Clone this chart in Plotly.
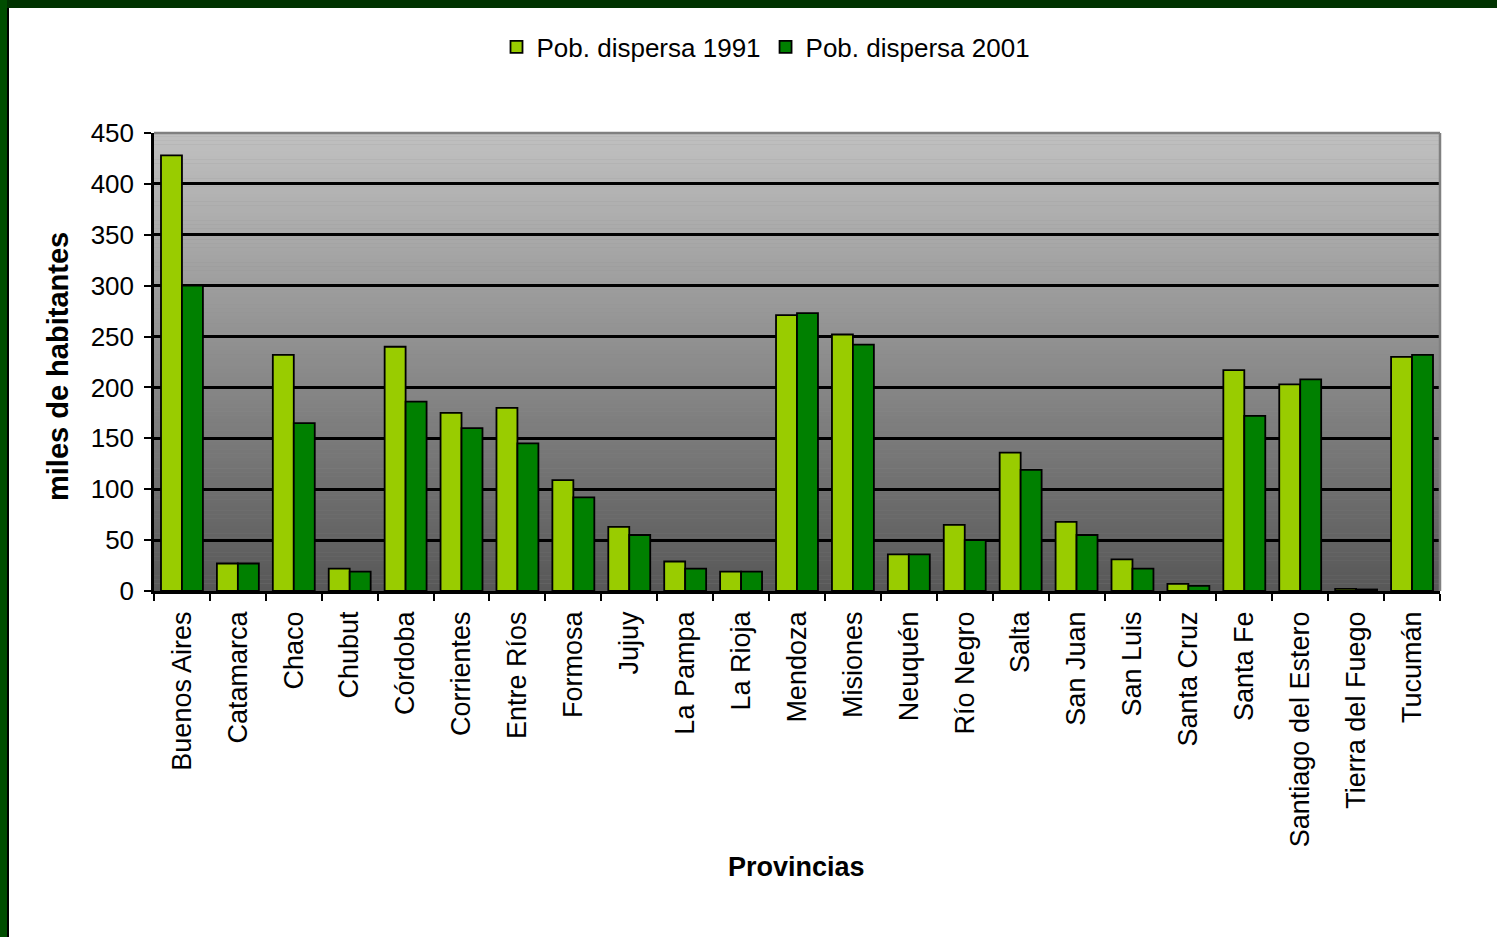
import plotly.graph_objects as go

provincias = ["Buenos Aires", "Catamarca", "Chaco", "Chubut", "Córdoba", "Corrientes",
              "Entre Ríos", "Formosa", "Jujuy", "La Pampa", "La Rioja", "Mendoza",
              "Misiones", "Neuquén", "Río Negro", "Salta", "San Juan", "San Luis",
              "Santa Cruz", "Santa Fe", "Santiago del Estero", "Tierra del Fuego", "Tucumán"]
pob_1991 = [428, 27, 232, 22, 240, 175, 180, 109, 63, 29, 19, 271,
            252, 36, 65, 136, 68, 31, 7, 217, 203, 2, 230]
pob_2001 = [300, 27, 165, 19, 186, 160, 145, 92, 55, 22, 19, 273,
            242, 36, 50, 119, 55, 22, 5, 172, 208, 1.5, 232]
y_ticks = [0, 50, 100, 150, 200, 250, 300, 350, 400, 450]

W, H = 1497, 937
L, R, T, B = 154, 1440, 133, 591
pw, ph = R - L, B - T

def px_x(p):
    return (p - L) / pw

def px_y(p):
    return (B - p) / ph

FONT = "Liberation Sans, Arial, sans-serif"

fig = go.Figure()
fig.add_trace(go.Bar(x=provincias, y=pob_1991, name="Pob. dispersa 1991",
                     marker=dict(color="#99CC00", line=dict(color="#000000", width=1.8))))
fig.add_trace(go.Bar(x=provincias, y=pob_2001, name="Pob. dispersa 2001",
                     marker=dict(color="#008000", line=dict(color="#000000", width=1.8))))

shapes = []
# gradient background
n = 120
c0, c1 = 0xC0, 0x58
for i in range(n):
    t = i / (n - 1)
    v = int(round(c0 + (c1 - c0) * t))
    col = f"rgb({v},{v},{v})"
    shapes.append(dict(type="rect", xref="paper", yref="paper", x0=0, x1=1,
                       y0=1 - (i + 1) / n, y1=1 - i / n + 0.0005,
                       fillcolor=col, line=dict(width=0), layer="below"))
# plot-area border top/right (gray)
shapes.append(dict(type="line", xref="paper", yref="paper", x0=0, x1=1, y0=1, y1=1,
                   line=dict(color="#808080", width=2.5), layer="above"))
shapes.append(dict(type="line", xref="paper", yref="paper", x0=1, x1=1, y0=0, y1=1,
                   line=dict(color="#808080", width=2.5), layer="above"))
# page frame: top and left dark green
shapes.append(dict(type="rect", xref="paper", yref="paper",
                   x0=px_x(-5), x1=px_x(W + 5), y0=px_y(8), y1=px_y(-5),
                   fillcolor="#003300", line=dict(width=0), layer="above"))
shapes.append(dict(type="rect", xref="paper", yref="paper",
                   x0=px_x(-5), x1=px_x(7), y0=px_y(H + 5), y1=px_y(-5),
                   fillcolor="#004D00", line=dict(width=0), layer="above"))
shapes.append(dict(type="rect", xref="paper", yref="paper",
                   x0=px_x(7), x1=px_x(9), y0=px_y(H + 5), y1=px_y(8),
                   fillcolor="#000000", line=dict(width=0), layer="above"))

fig.update_layout(
    width=W, height=H,
    margin=dict(l=L, r=W - R, t=T, b=H - B, autoexpand=False),
    paper_bgcolor="white", plot_bgcolor="#8c8c8c",
    font=dict(family=FONT, size=26, color="#000000"),
    barmode="group", bargap=0.25, bargroupgap=0,
    showlegend=True,
    legend=dict(orientation="h", x=px_x(766), xanchor="center", y=px_y(47), yanchor="middle",
                font=dict(size=26), bgcolor="rgba(0,0,0,0)", itemwidth=30,
                traceorder="normal"),
    shapes=shapes,
    annotations=[
        dict(text="<b>Provincias</b>", xref="paper", yref="paper",
             x=px_x(796), y=px_y(867), xanchor="center", yanchor="middle",
             showarrow=False, font=dict(size=27)),
        dict(text="<b>miles de habitantes</b>", xref="paper", yref="paper",
             x=px_x(58), y=px_y(366), xanchor="center", yanchor="middle",
             textangle=-90, showarrow=False, font=dict(size=29)),
    ],
)
fig.update_xaxes(
    type="category", tickangle=-90, ticks="outside", tickson="boundaries",
    ticklen=7, tickwidth=2, tickcolor="#000000",
    showline=True, linecolor="#000000", linewidth=2.5,
    showgrid=False, automargin=False, ticklabelstandoff=7,
    tickfont=dict(size=27),
)
fig.update_yaxes(
    range=[0, 450], tickvals=y_ticks, ticks="outside", ticklen=7, tickwidth=2,
    tickcolor="#000000", showline=True, linecolor="#000000", linewidth=2.5,
    showgrid=True, gridcolor="#000000", gridwidth=2.5, zeroline=False,
    automargin=False, tickfont=dict(size=26), ticklabelstandoff=5,
)
fig.write_html("out.html", config={"displayModeBar": False},
               post_script="document.body.style.margin='0';document.body.style.overflow='hidden';")
